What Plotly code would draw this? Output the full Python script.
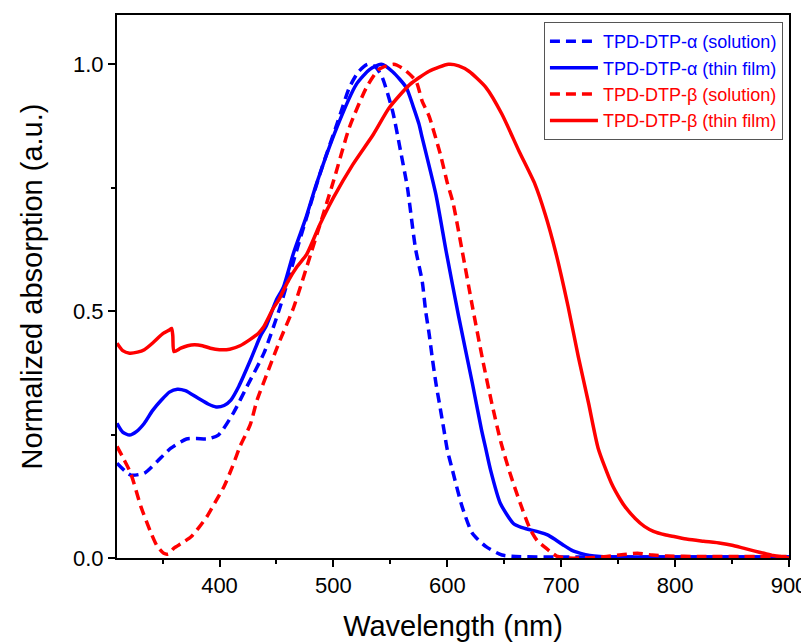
import plotly.graph_objects as go

# ---- data ----
wl_a_sol = [310, 322, 334, 345, 357, 371, 380, 389, 399, 412, 424, 439, 453, 468, 488, 504, 514, 522, 530, 537,
            543, 552, 559, 565, 572, 578, 581, 584, 587, 590, 593, 597, 600, 604.5, 613, 622, 634, 648, 660, 700, 800, 900]
abs_a_sol = [0.192, 0.168, 0.172, 0.195, 0.222, 0.241, 0.242, 0.241, 0.249, 0.293, 0.347, 0.415, 0.507, 0.625, 0.777,
             0.885, 0.953, 0.985, 1.0, 0.995, 0.973, 0.905, 0.824, 0.75, 0.628, 0.56, 0.50, 0.455, 0.402, 0.354, 0.314,
             0.26, 0.219, 0.178, 0.104, 0.05, 0.023, 0.006, 0.003, 0.002, 0.002, 0.002]

wl_a_film = [310, 315, 321, 327, 334, 341, 349, 356, 363, 370, 381, 390, 397, 404, 410, 417, 427, 436, 441, 450, 456,
             465, 476, 485, 503, 520, 532, 542, 552, 564, 570, 575, 578, 590, 599, 610, 622, 630, 634, 638, 646.5, 658,
             665, 673, 680, 688, 695, 702, 709, 717, 725, 734, 760, 900]
abs_a_film = [0.273, 0.255, 0.249, 0.256, 0.273, 0.298, 0.32, 0.336, 0.342, 0.339, 0.324, 0.312, 0.306, 0.309, 0.32,
              0.348, 0.40, 0.45, 0.47, 0.523, 0.548, 0.618, 0.69, 0.757, 0.872, 0.959, 0.99, 1.0, 0.985, 0.953, 0.915,
              0.88, 0.851, 0.736, 0.621, 0.489, 0.354, 0.26, 0.219, 0.178, 0.111, 0.07, 0.062, 0.057, 0.053, 0.047,
              0.037, 0.026, 0.016, 0.0095, 0.005, 0.003, 0.002, 0.002]

wl_b_sol = [310, 316, 322, 331, 340, 345, 351, 355, 360, 367, 375, 382, 389, 396, 404, 411, 418, 427, 433, 442, 452,
            465, 480, 500, 514, 529, 540, 553, 562, 572.5, 578, 584, 594, 600, 605, 613, 622, 631, 639, 647, 655, 664,
            673, 679, 685, 691, 696, 705, 720, 740, 755, 767, 780, 793, 820, 900]
abs_b_sol = [0.226, 0.2, 0.172, 0.104, 0.05, 0.025, 0.0095, 0.008, 0.02, 0.03, 0.043, 0.062, 0.084, 0.112, 0.145,
             0.183, 0.226, 0.27, 0.32, 0.375, 0.435, 0.507, 0.615, 0.763, 0.872, 0.953, 0.99, 1.0, 0.99, 0.966, 0.925,
             0.895, 0.817, 0.76, 0.72, 0.623, 0.51, 0.402, 0.314, 0.235, 0.172, 0.111, 0.057, 0.035, 0.023, 0.012,
             0.004, 0.0, 0.0, 0.003, 0.007, 0.0095, 0.006, 0.004, 0.003, 0.003]

wl_b_film = [310, 315, 321, 328, 334, 342, 350, 356, 358, 359, 360, 366, 372, 378, 385, 392, 400, 409, 418, 427, 434,
             439, 447, 452, 460, 468, 476.5, 488, 500, 517, 535, 549, 567, 584, 601, 610, 619, 634, 648, 663, 677, 686,
             695, 706, 715, 724, 732.5, 744, 752, 756, 765, 773, 781, 791, 800, 811, 825, 840, 850, 860, 870, 878, 886,
             892, 900]
abs_b_film = [0.435, 0.42, 0.415, 0.417, 0.422, 0.437, 0.454, 0.462, 0.465, 0.45, 0.418, 0.425, 0.43, 0.432, 0.43,
              0.425, 0.422, 0.423, 0.43, 0.443, 0.455, 0.469, 0.505, 0.523, 0.56, 0.59, 0.615, 0.675, 0.73, 0.797,
              0.858, 0.912, 0.959, 0.986, 1.0, 0.997, 0.986, 0.953, 0.899, 0.824, 0.757, 0.696, 0.621, 0.51, 0.408,
              0.314, 0.222, 0.152, 0.118, 0.104, 0.08, 0.064, 0.054, 0.047, 0.043, 0.038, 0.034, 0.030, 0.026, 0.020,
              0.014, 0.0095, 0.005, 0.003, 0.0]

names = ["TPD-DTP-α (solution)", "TPD-DTP-α (thin film)", "TPD-DTP-β (solution)", "TPD-DTP-β (thin film)"]
colors = ["#0000FF", "#0000FF", "#FF0000", "#FF0000"]
dashes = ["10px,6px", "solid", "10px,6px", "solid"]
xs = [wl_a_sol, wl_a_film, wl_b_sol, wl_b_film]
ys = [abs_a_sol, abs_a_film, abs_b_sol, abs_b_film]

x_ticks = [400, 500, 600, 700, 800, 900]
y_ticks = [0.0, 0.5, 1.0]

FONT = "Liberation Sans, Arial, Helvetica, sans-serif"

fig = go.Figure()
for i in range(4):
    fig.add_trace(go.Scatter(
        x=xs[i], y=ys[i], mode="lines",
        name=f'<span style="color:{colors[i]}">{names[i]}</span>',
        line=dict(color=colors[i], width=3.5, dash=dashes[i], shape="spline", smoothing=0.6),
    ))

axis_common = dict(
    showline=True, linecolor="black", linewidth=2, mirror=True,
    ticks="outside", ticklen=7, tickwidth=2, tickcolor="black",
    showgrid=False, zeroline=False, automargin=False,
    tickfont=dict(family=FONT, size=22, color="black"),
)

fig.update_xaxes(
    range=[310, 900], tickvals=x_ticks,
    minor=dict(dtick=50, tick0=400, ticks="outside", ticklen=4, tickwidth=2, tickcolor="black"),
    title=dict(text="Wavelength (nm)", font=dict(family=FONT, size=29, color="black"), standoff=18),
    **axis_common,
)
fig.update_yaxes(
    range=[0, 1.1], tickvals=y_ticks, tickformat=".1f",
    minor=dict(dtick=0.25, tick0=0, ticks="outside", ticklen=4, tickwidth=2, tickcolor="black"),
    title=dict(text="Normalized absorption (a.u.)", font=dict(family=FONT, size=29, color="black"), standoff=22),
    **axis_common,
)

# page body has an 8px margin, so the figure is sized/offset to compensate
fig.update_layout(
    width=801, height=634,
    margin=dict(l=109, r=20, t=7, b=84),
    paper_bgcolor="white", plot_bgcolor="white",
    showlegend=True,
    legend=dict(
        x=0.991, y=0.987, xanchor="right", yanchor="top",
        bgcolor="white", bordercolor="#555555", borderwidth=1,
        font=dict(family=FONT, size=18, color="black"),
        itemwidth=48,
    ),
)

fig.write_html("out.html")
